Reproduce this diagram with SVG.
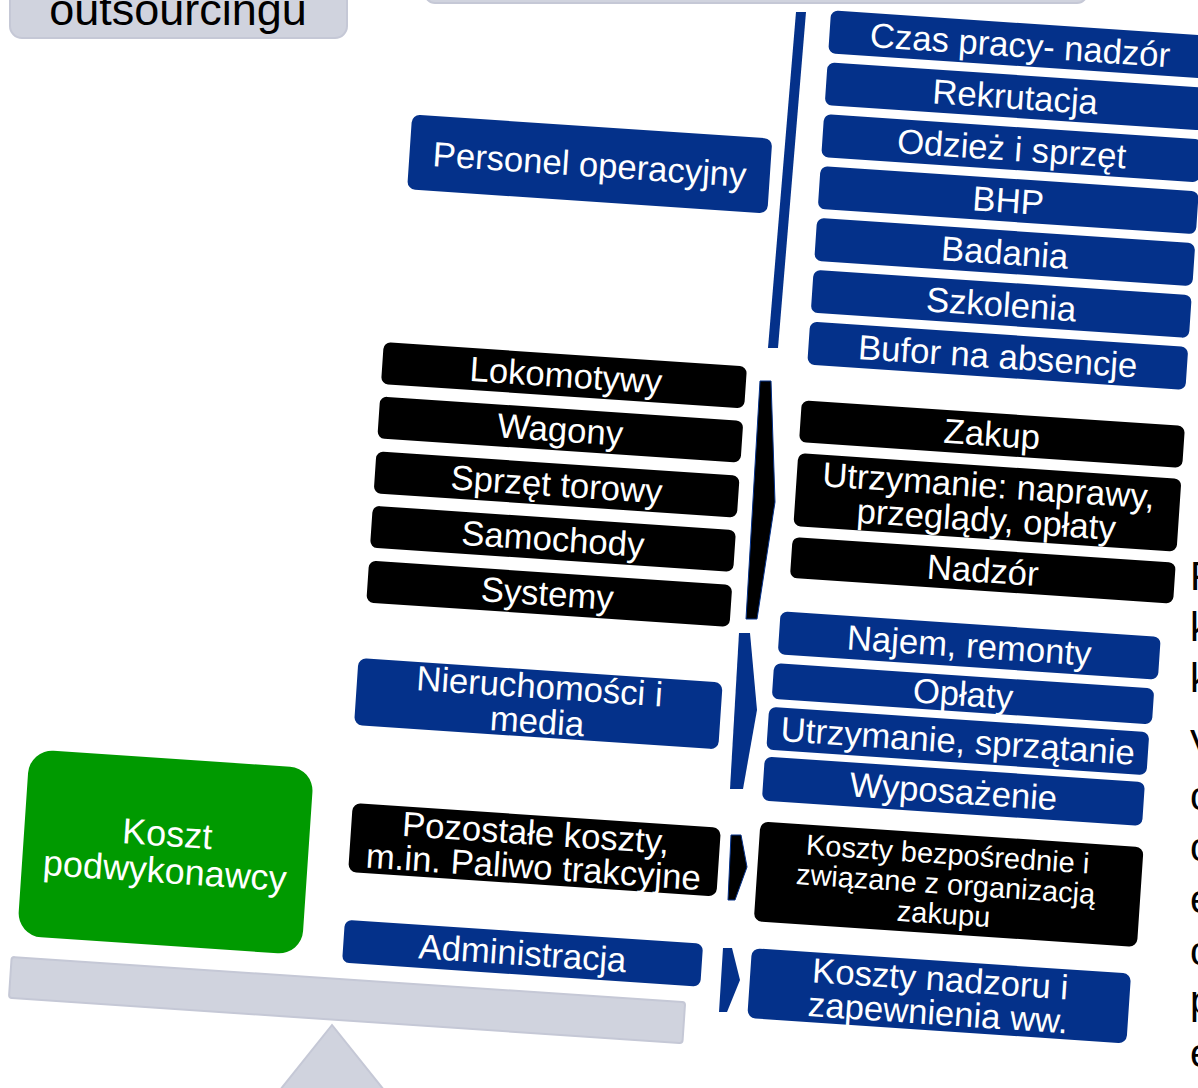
<svg xmlns="http://www.w3.org/2000/svg" width="1198" height="1088" viewBox="0 0 1198 1088">
<style>
.blue{fill:#04318A}
.blk{fill:#000}
.grn{fill:#009A00}
.gray{fill:#D0D3DE;stroke:#C5C8D6;stroke-width:2}
.t{font-family:"Liberation Sans",Arial,sans-serif;fill:#fff;text-anchor:middle;font-size:34.7px}
.s{font-size:29px}
.g{font-size:36px}
.side{font-family:"Liberation Sans",Arial,sans-serif;fill:#000;font-size:40px}
</style>
<rect width="1198" height="1088" fill="#fff"/>
<g id="top-box">
<rect class="gray" x="10" y="-60" width="337" height="98" rx="12"/>
<text x="178" y="25" style="font-family:'Liberation Sans',Arial,sans-serif;font-size:45px;fill:#000;text-anchor:middle">outsourcingu</text>
</g>
<g id="top-bar"><rect class="gray" x="425" y="-30" width="662" height="33" rx="10"/></g>
<g id="fulcrum"><polygon class="gray" points="332,1025 280,1090 384,1090"/></g>
<g id="connectors">
<polygon class="blue" points="796,12 806,12 778,348 768,348"/>
<polygon class="blk" stroke="#04318A" stroke-width="1" points="760,381 771,381 775,502 757,619 746,619"/>
<polygon class="blue" points="739,633 750,633 757,710 743,789 730,789"/>
<polygon class="blk" stroke="#04318A" stroke-width="1" points="731,835 741,835 747,867 735,900 728,900"/>
<polygon class="blue" points="723,948 732,948 740,980 727,1012 719,1012"/>
</g>
<g transform="rotate(3.85 600 540)">
<g id="beam"><rect class="gray" x="41" y="995.5" width="675" height="41" rx="3"/></g>
<g id="koszt"><rect class="grn" x="45" y="787" width="285" height="187" rx="24"/>
<text class="t g" x="188" y="874.5">Koszt</text><text class="t g" x="188" y="911.5">podwykonawcy</text></g>
<g id="personel"><rect class="blue" x="384" y="128" width="361" height="75" rx="8"/>
<text class="t" x="564.5" y="178">Personel operacyjny</text></g>
<g id="czas"><rect class="blue" x="795" y="-4" width="379" height="43" rx="7"/><text class="t" x="986" y="30">Czas pracy- nadzór</text></g>
<g id="rekrutacja"><rect class="blue" x="795" y="48" width="379" height="43" rx="7"/><text class="t" x="984.5" y="82">Rekrutacja</text></g>
<g id="odziez"><rect class="blue" x="795" y="100" width="379" height="43" rx="7"/><text class="t" x="984.5" y="134">Odzież i sprzęt</text></g>
<g id="bhp"><rect class="blue" x="795" y="152" width="379" height="43" rx="7"/><text class="t" x="984.5" y="186">BHP</text></g>
<g id="badania"><rect class="blue" x="795" y="204" width="379" height="43" rx="7"/><text class="t" x="984.5" y="238">Badania</text></g>
<g id="szkolenia"><rect class="blue" x="795" y="256" width="379" height="43" rx="7"/><text class="t" x="984.5" y="290">Szkolenia</text></g>
<g id="bufor"><rect class="blue" x="795" y="308" width="379" height="43" rx="7"/><text class="t" x="984.5" y="342">Bufor na absencje</text></g>
<g id="lokomotywy"><rect class="blk" x="371" y="357" width="364" height="42" rx="7"/><text class="t" x="555" y="390">Lokomotywy</text></g>
<g id="wagony"><rect class="blk" x="371" y="411.5" width="364" height="42" rx="7"/><text class="t" x="553" y="444.5">Wagony</text></g>
<g id="sprzet"><rect class="blk" x="371" y="466.5" width="364" height="42" rx="7"/><text class="t" x="553" y="499.5">Sprzęt torowy</text></g>
<g id="samochody"><rect class="blk" x="371" y="521" width="364" height="42" rx="7"/><text class="t" x="553" y="554">Samochody</text></g>
<g id="systemy"><rect class="blk" x="371" y="576" width="364" height="42" rx="7"/><text class="t" x="551" y="609">Systemy</text></g>
<g id="zakup"><rect class="blk" x="792" y="387" width="384" height="42" rx="7"/><text class="t" x="984" y="420">Zakup</text></g>
<g id="utrzymanie"><rect class="blk" x="792" y="440" width="384" height="73" rx="7"/><text class="t" x="984" y="471.5">Utrzymanie: naprawy,</text><text class="t" x="984" y="505.5">przeglądy, opłaty</text></g>
<g id="nadzor"><rect class="blk" x="792" y="524" width="384" height="41" rx="7"/><text class="t" x="984" y="556.5">Nadzór</text></g>
<g id="nieruchomosci"><rect class="blue" x="367" y="674" width="365" height="67" rx="8"/><text class="t" x="549.5" y="702">Nieruchomości i</text><text class="t" x="549.5" y="737">media</text></g>
<g id="najem"><rect class="blue" x="785" y="599" width="381" height="43" rx="7"/><text class="t" x="975.5" y="632.5">Najem, remonty</text></g>
<g id="oplaty"><rect class="blue" x="782" y="651" width="381" height="36" rx="7"/><text class="t" x="972.5" y="681">Opłaty</text></g>
<g id="utrzymanie-sprz"><rect class="blue" x="780" y="695" width="381" height="43" rx="7"/><text class="t" x="970.5" y="728.5">Utrzymanie, sprzątanie</text></g>
<g id="wyposazenie"><rect class="blue" x="779" y="745" width="381" height="44" rx="7"/><text class="t" x="969.5" y="779">Wyposażenie</text></g>
<g id="pozostale"><rect class="blk" x="371" y="819" width="369" height="69" rx="8"/><text class="t" x="555.5" y="848.5">Pozostałe koszty,</text><text class="t" x="555.5" y="882.5">m.in. Paliwo trakcyjne</text></g>
<g id="bezposrednie"><rect class="blk" x="779" y="810" width="384" height="100" rx="8"/><text class="t s" x="968" y="840">Koszty bezpośrednie i</text><text class="t s" x="968" y="870">związane z organizacją</text><text class="t s" x="968" y="900">zakupu</text></g>
<g id="administracja"><rect class="blue" x="371" y="936" width="359" height="43" rx="7"/><text class="t" x="550.5" y="969.5">Administracja</text></g>
<g id="nadzoru"><rect class="blue" x="779" y="937" width="380" height="70" rx="8"/><text class="t" x="969" y="967">Koszty nadzoru i</text><text class="t" x="969" y="1001">zapewnienia ww.</text></g>
</g>
<g id="side-text">
<text class="side" x="1190" y="590">F</text>
<text class="side" x="1190" y="641">k</text>
<text class="side" x="1190" y="692">k</text>
<text class="side" x="1190" y="758">V</text>
<text class="side" x="1190" y="810">c</text>
<text class="side" x="1190" y="861">c</text>
<text class="side" x="1190" y="913">e</text>
<text class="side" x="1190" y="965">c</text>
<text class="side" x="1190" y="1014">p</text>
<text class="side" x="1190" y="1067">e</text>
</g>
</svg>
